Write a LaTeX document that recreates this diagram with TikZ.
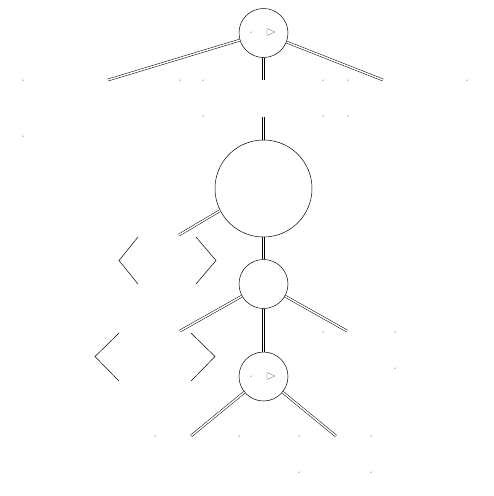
\documentclass[tikz,border=0pt]{standalone}
\begin{document}
\begin{tikzpicture}[x=1pt,y=-1pt]
    \useasboundingbox (0,0) rectangle (494,496);

    \begin{scope}[every node/.style={circle,draw,line width=0.5pt,inner sep=0pt}]
        \node[minimum size=49pt] (1) at (263.5,33) {}; % Top node
        \node[minimum size=97pt] (2) at (263.5,188.5) {}; % Big node %
        \node[minimum size=49pt] (3) at (263.5,284) {};
        \node[minimum size=49pt] (4) at (263.5,376.5) {};
    \end{scope}

    % free ends %
    \coordinate (a) at (108,80);
    \coordinate (b) at (383,80);
    \coordinate (c) at (263.5,80);
    \coordinate (d) at (263.5,117);
    \coordinate (e) at (179,235);
    \coordinate (f) at (180,331);
    \coordinate (g) at (347,331);
    \coordinate (h) at (191,436);
    \coordinate (i) at (336,436);

    \begin{scope}[every edge/.style={draw,double,double distance=1.5pt,line width=0.5pt}]
        \path (1) edge (a);
        \path (1) edge (b);
        \path (1.south) edge (c);
        \path (d) edge (2.north);
        \path (2.207) edge (e);
        \path (2.south) edge (3.north);
        \path (3) edge (f);
        \path (3) edge (g);
        \path (3.south) edge (4.north);
        \path (4) edge (h);
        \path (4) edge (i);
    \end{scope}

    \begin{scope}[line width=0.5pt]
        % brackets %
        \draw (138,237) -- (119,260.5) -- (138,284);
        \draw (196,237) -- (216,260.5) -- (196,284);
        \draw (119,333) -- (95,356.5) -- (119,381);
        \draw (191,333) -- (215,356.5) -- (191,381);
    \end{scope}

    \begin{scope}[line width=0.3pt,draw=black!60]
        \draw (267,28.5) -- (275,32) -- (267,35.5) -- cycle;
        \draw (267,372.5) -- (275,376) -- (267,379.5) -- cycle;
    \end{scope}

    \foreach \p in {(251,32),(251,376),(23,80),(180,80),(203,80),(323,80),(348,80),(467,80),
        (203,116),(323,116),(348,116),(23,136),(323,332),(395,332),(395,368),
        (155,436),(239,436),(299,436),(371,436),(299,472),(371,472)}
        \fill \p circle (0.5pt);

\end{tikzpicture}
\end{document}
